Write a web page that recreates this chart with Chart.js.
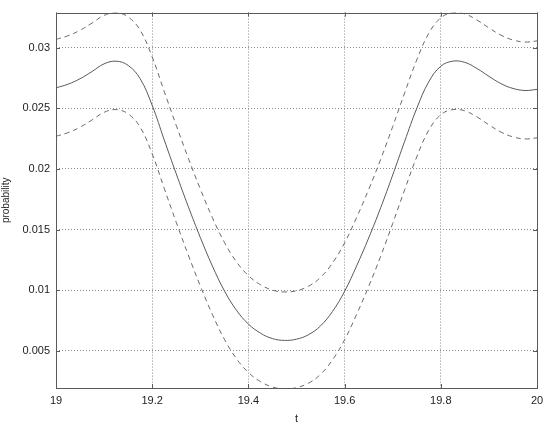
<!DOCTYPE html>
<html>
<head>
<meta charset="utf-8">
<script src="https://cdn.jsdelivr.net/npm/chart.js@4/dist/chart.umd.min.js"></script>
<style>
  html, body { margin: 0; padding: 0; background: #fff; }
  #wrap { width: 550px; height: 426px; }
</style>
</head>
<body>
<div id="wrap"><canvas id="c" width="550" height="426"></canvas></div>
<script>
const tValues = [19.000,19.025,19.050,19.075,19.100,19.125,19.150,19.175,19.200,19.225,
  19.250,19.275,19.300,19.325,19.350,19.375,19.400,19.425,19.450,19.475,
  19.500,19.525,19.550,19.575,19.600,19.625,19.650,19.675,19.700,19.725,
  19.750,19.775,19.800,19.825,19.850,19.875,19.900,19.925,19.950,19.975,20.000];

const meanValues = [0.02670,0.02700,0.02745,0.02805,0.02868,0.02890,0.02855,0.02745,0.02525,0.02240,
  0.01960,0.01690,0.01435,0.01200,0.00995,0.00835,0.00720,0.00645,0.00600,0.00585,
  0.00595,0.00632,0.00705,0.00825,0.00990,0.01200,0.01430,0.01680,0.01950,0.02230,
  0.02500,0.02720,0.02848,0.02890,0.02880,0.02830,0.02765,0.02705,0.02665,0.02648,0.02657];

const upperValues = [0.03070,0.03100,0.03145,0.03205,0.03268,0.03290,0.03255,0.03145,0.02925,0.02640,
  0.02360,0.02090,0.01835,0.01600,0.01395,0.01235,0.01120,0.01045,0.01000,0.00985,
  0.00995,0.01032,0.01105,0.01225,0.01390,0.01600,0.01830,0.02080,0.02350,0.02630,
  0.02900,0.03120,0.03248,0.03290,0.03280,0.03230,0.03165,0.03105,0.03065,0.03048,0.03057];

const lowerValues = [0.02270,0.02300,0.02345,0.02405,0.02468,0.02490,0.02455,0.02345,0.02125,0.01840,
  0.01560,0.01290,0.01035,0.00800,0.00595,0.00435,0.00320,0.00245,0.00200,0.00185,
  0.00195,0.00232,0.00305,0.00425,0.00590,0.00800,0.01030,0.01280,0.01550,0.01830,
  0.02100,0.02320,0.02448,0.02490,0.02480,0.02430,0.02365,0.02305,0.02265,0.02248,0.02257];

const xTicks = [19, 19.2, 19.4, 19.6, 19.8, 20];
const xTickLabels = ['19', '19.2', '19.4', '19.6', '19.8', '20'];
const yTicks = [0.005, 0.01, 0.015, 0.02, 0.025, 0.03];
const yTickLabels = ['0.005', '0.01', '0.015', '0.02', '0.025', '0.03'];

const toPoints = arr => arr.map((v, i) => ({ x: tValues[i], y: v }));

const frame = {
  id: 'frame',
  afterDatasetsDraw(chart) {
    const { ctx, chartArea: a, scales } = chart;
    ctx.save();
    ctx.strokeStyle = '#5a5a5a';
    ctx.lineWidth = 1;
    ctx.setLineDash([]);
    ctx.strokeRect(Math.round(a.left) + 0.5, Math.round(a.top) + 0.5,
      Math.round(a.right - a.left), Math.round(a.bottom - a.top));
    const L = 4;
    ctx.beginPath();
    xTicks.forEach(v => {
      const px = Math.round(scales.x.getPixelForValue(v)) + 0.5;
      ctx.moveTo(px, a.bottom); ctx.lineTo(px, a.bottom - L);
      ctx.moveTo(px, a.top); ctx.lineTo(px, a.top + L);
    });
    yTicks.forEach(v => {
      const py = Math.round(scales.y.getPixelForValue(v)) + 0.5;
      ctx.moveTo(a.left, py); ctx.lineTo(a.left + L, py);
      ctx.moveTo(a.right, py); ctx.lineTo(a.right - L, py);
    });
    ctx.stroke();
    ctx.restore();
  }
};

const lineStyle = {
  pointRadius: 0,
  borderWidth: 1,
  tension: 0.4,
  fill: false
};

new Chart(document.getElementById('c'), {
  type: 'line',
  data: {
    datasets: [
      Object.assign({ label: 'upper', data: toPoints(upperValues), borderColor: '#6a6a6a', borderDash: [5, 4] }, lineStyle),
      Object.assign({ label: 'mean', data: toPoints(meanValues), borderColor: '#5a5a5a' }, lineStyle),
      Object.assign({ label: 'lower', data: toPoints(lowerValues), borderColor: '#6a6a6a', borderDash: [5, 4] }, lineStyle)
    ]
  },
  options: {
    responsive: false,
    animation: false,
    events: [],
    layout: { padding: { left: 0, right: 13, top: 8, bottom: 0 } },
    plugins: { legend: { display: false }, tooltip: { enabled: false } },
    scales: {
      x: {
        type: 'linear',
        min: 19, max: 20,
        afterBuildTicks: s => { s.ticks = xTicks.map(v => ({ value: v })); },
        afterFit: s => { s.height = 38; },
        ticks: {
          callback: (v) => xTickLabels[xTicks.indexOf(v)] ?? '',
          color: '#222', font: { family: 'Liberation Sans', size: 11 },
          padding: 6, maxRotation: 0, autoSkip: false
        },
        grid: { color: '#8a8a8a', lineWidth: 1, drawTicks: false },
        border: { display: false, dash: [1, 2] },
        title: { display: true, text: 't', color: '#222', font: { family: 'Liberation Sans', size: 11 }, padding: { top: 2, bottom: 0 } }
      },
      y: {
        type: 'linear',
        min: 0.00192, max: 0.03291,
        afterBuildTicks: s => { s.ticks = yTicks.map(v => ({ value: v })); },
        afterFit: s => { s.width = 56; },
        ticks: {
          callback: (v) => yTickLabels[yTicks.indexOf(v)] ?? '',
          color: '#222', font: { family: 'Liberation Sans', size: 11 },
          padding: 6, autoSkip: false
        },
        grid: { color: '#8a8a8a', lineWidth: 1, drawTicks: false },
        border: { display: false, dash: [1, 2] },
        title: { display: true, text: 'probability', color: '#222', font: { family: 'Liberation Sans', size: 10 }, padding: { top: 0, bottom: 2 } }
      }
    }
  },
  plugins: [frame]
});
</script>
</body>
</html>
